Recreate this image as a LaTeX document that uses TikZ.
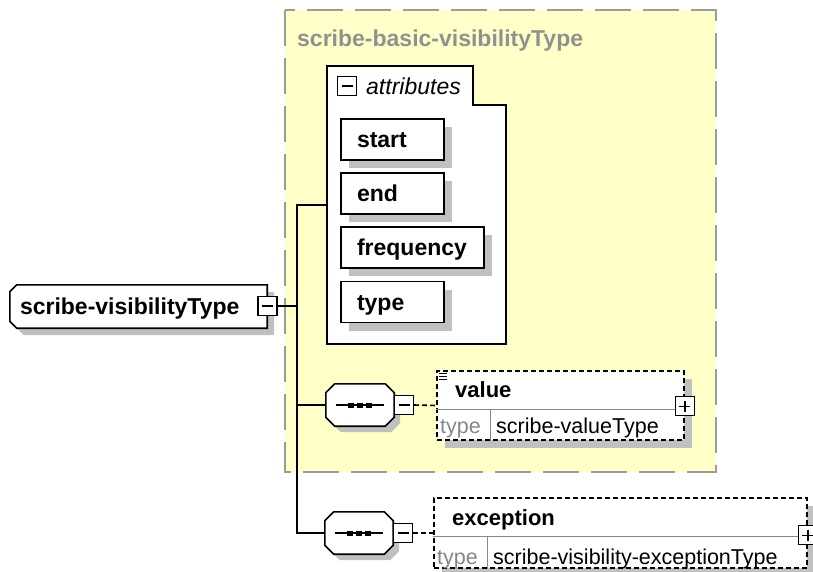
\documentclass[tikz,border=0pt]{standalone}
\usepackage{fontspec}
\setmainfont{Liberation Sans}
\usetikzlibrary{shadows,backgrounds}

% 颜色
\definecolor{boxyellow}{RGB}{255,255,200}
\definecolor{framegray}{RGB}{155,155,155}
\definecolor{titlegray}{RGB}{145,145,145}
\definecolor{shadegray}{RGB}{192,192,192}
\definecolor{sepgray}{RGB}{135,135,135}

\tikzset{
  lbl/.style={font=\fontsize{21.5}{25}\selectfont, inner sep=0pt, text height=16pt, text depth=0pt, anchor=west},
  boldlbl/.style={lbl, font=\fontsize{23}{27}\selectfont\bfseries},
  elemlbl/.style={lbl, font=\fontsize{22}{26}\selectfont\bfseries},
  dropshade/.style={drop shadow={shadow xshift=8pt, shadow yshift=-8pt, fill=shadegray, opacity=1}},
  castshadow/.style={preaction={fill=shadegray, transform canvas={shift={(#1,-#1)}}}},
  attrbox/.style={boldlbl, anchor=center, draw, fill=white, line width=1.6pt, minimum height=41pt,
    inner xsep=16pt, text width=71pt, align=left, dropshade},
  elembox/.style={draw, dash pattern=on 5pt off 3pt, line width=1.6pt, fill=white, inner sep=0pt, dropshade},
  btn/.style={draw, fill=white, line width=1.4pt, minimum size=19pt, inner sep=0pt},
  minusbtn/.style={btn, path picture={\draw[line width=1.4pt] ([xshift=4pt]path picture bounding box.west) -- ([xshift=-4pt]path picture bounding box.east);}},
  plusbtn/.style={btn, path picture={
    \draw[line width=1.4pt] ([xshift=4pt]path picture bounding box.west) -- ([xshift=-4pt]path picture bounding box.east);
    \draw[line width=1.4pt] ([yshift=-4pt]path picture bounding box.north) -- ([yshift=4pt]path picture bounding box.south);}},
  seqnode/.style={inner sep=0pt, minimum width=68pt, minimum height=42pt},
  conn/.style={line width=1.6pt},
  sepline/.style={line width=1.2pt, sepgray}
}

\begin{document}
\begin{tikzpicture}[x=1pt, y=-1pt]
    \useasboundingbox (0,0) rectangle (813,571);

    % 主元素
    \node[boldlbl, anchor=center, minimum width=257pt, minimum height=43pt, text width=237pt, align=left, inner xsep=10pt]
      (vistype) at (138.5,306.5) {scribe-visibilityType};
    \node[minusbtn] (vistypebtn) at (267.5,306) {};

    % 基类型标题
    \node[boldlbl, text=titlegray] (grouptitle) at (297,38) {scribe-basic-visibilityType};

    % 属性组
    \node[minusbtn] (attrbtn) at (347,86) {};
    \node[lbl, font=\fontsize{23}{27}\selectfont\itshape] (attrtitle) at (366,86) {attributes};
    \node[attrbox] (attrstart) at (392.5,139.5) {start};
    \node[attrbox] (attrend) at (392.5,193.5) {end};
    \node[attrbox, text width=111pt] (attrfreq) at (412.5,247.5) {frequency};
    \node[attrbox] (attrtype) at (392.5,302) {type};
    \coordinate (attrin) at (327,205);

    % 序列组合器
    \node[seqnode] (seqA) at (360,405) {};
    \node[minusbtn] (seqAbtn) at (404,405) {};
    \node[seqnode] (seqB) at (359,533) {};
    \node[minusbtn] (seqBbtn) at (403,533) {};
    \foreach \s in {seqA,seqB} {
      \draw[line width=1.6pt] ([xshift=10pt]\s.west) -- ([xshift=-10pt]\s.east);
      \foreach \d in {-9,0,9}
        \fill ([xshift=\d pt]\s.center) +(-3,-2.5) rectangle +(3,2.5);
    }

    % value 元素
    \node[elembox, minimum width=247pt, minimum height=69pt] (valuebox) at (560.5,405.5) {};
    \draw[sepline] ([yshift=-39pt]valuebox.north west) -- ([yshift=-39pt]valuebox.north east);
    \draw[sepline] ([shift={(54,39)}]valuebox.north west) -- ([xshift=54pt]valuebox.south west);
    \foreach \k in {3,6,9}
      \draw[line width=1pt] ([shift={(3,\k)}]valuebox.north west) -- ++(8,0);
    \node[elemlbl] (valuename) at (455,389) {value};
    \node[lbl, text=sepgray] (valuetypelbl) at (440,425) {type};
    \node[lbl] (valuetypename) at (496,425) {scribe-valueType};
    \node[plusbtn] (valuebtn) at ([yshift=-36pt]valuebox.north east) {};

    % exception 元素
    \node[elembox, minimum width=373pt, minimum height=70pt] (excbox) at (620.5,533) {};
    \draw[sepline] ([yshift=-39pt]excbox.north west) -- ([yshift=-39pt]excbox.north east);
    \draw[sepline] ([shift={(54,39)}]excbox.north west) -- ([xshift=54pt]excbox.south west);
    \node[elemlbl] (excname) at (452,517) {exception};
    \node[lbl, text=sepgray] (exctypelbl) at (437,556) {type};
    \node[lbl] (exctypename) at (493,556) {scribe-visibility-exceptionType};
    \node[plusbtn] (excbtn) at ([yshift=-38pt]excbox.north east) {};

    % 连线
    \coordinate (trunktop) at (297,205);
    \coordinate (trunkbot) at (297,533);
    \draw[conn] (vistypebtn.east) -- (vistypebtn.east -| trunktop);
    \draw[conn] (attrin) -- (trunktop) -- (trunkbot) -- (seqB.west);
    \draw[conn] (seqA.west) -- (seqA.west -| trunktop);
    \draw[conn, dash pattern=on 5pt off 3pt] (seqAbtn.east) -- (valuebox.west);
    \draw[conn, dash pattern=on 5pt off 3pt] (seqBbtn.east) -- (excbox.west);

    \begin{scope}[on background layer]
      \fill[white] (0,0) rectangle (813,571);
      % 黄色虚线框
      \fill[boxyellow] (285,10) rectangle (716,472);
      \draw[framegray, line width=2pt, dash pattern=on 36pt off 12pt] (285,10) rectangle (716,472);
      % 属性组外框
      \draw[line width=1.6pt, fill=white] (327,66) -- (473,66) -- (473,105) -- (506,105) -- (506,344) -- (327,344) -- cycle;
      % 主元素外形
      \draw[line width=1.6pt, fill=white, castshadow=7pt]
        ([xshift=7pt]vistype.north west) -- (vistype.north east) -- (vistype.south east)
        -- ([xshift=7pt]vistype.south west) -- ([yshift=7pt]vistype.south west)
        -- ([yshift=-7pt]vistype.north west) -- cycle;
      % 组合器外形
      \foreach \s in {seqA,seqB}
        \draw[line width=1.6pt, fill=white, castshadow=6pt]
          ([xshift=9pt]\s.north west) -- ([xshift=-9pt]\s.north east) -- ([yshift=-9pt]\s.north east)
          -- ([yshift=9pt]\s.south east) -- ([xshift=-9pt]\s.south east) -- ([xshift=9pt]\s.south west)
          -- ([yshift=9pt]\s.south west) -- ([yshift=-9pt]\s.north west) -- cycle;
    \end{scope}
\end{tikzpicture}
\end{document}
